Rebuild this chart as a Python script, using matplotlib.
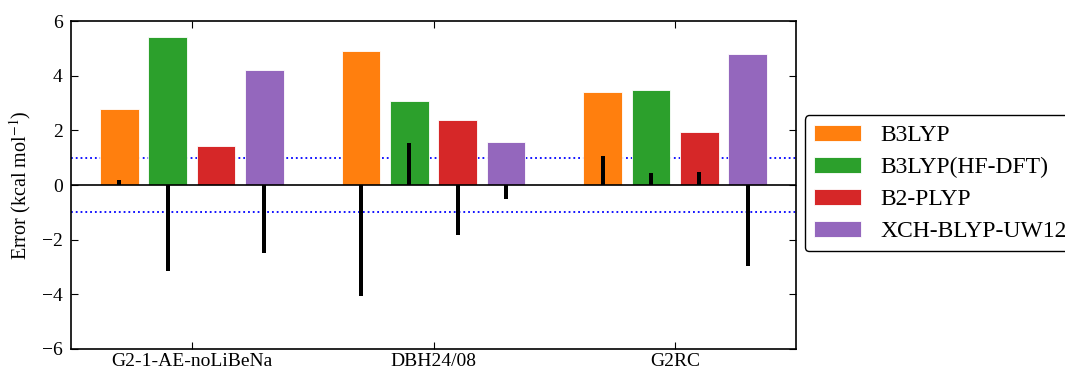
"""Error bars for four functionals over three benchmark sets"""

import matplotlib
matplotlib.use("Agg")
import matplotlib.pyplot as plt
import numpy as np

sets = ["G2-1-AE-noLiBeNa", "DBH24/08", "G2RC"]
methods = ["B3LYP", "B3LYP(HF-DFT)", "B2-PLYP", "XCH-BLYP-UW12"]
colors = ["#ff7f0e", "#2ca02c", "#d62728", "#9467bd"]

# mean absolute errors (coloured bars)
mae_b3lyp = [2.78, 4.92, 3.39]
mae_hfdft = [5.41, 3.08, 3.47]
mae_b2plyp = [1.43, 2.36, 1.93]
mae_xch = [4.19, 1.59, 4.79]

# mean signed errors (thin black bars)
mse_b3lyp = [0.20, -4.05, 1.07]
mse_hfdft = [-3.14, 1.55, 0.44]
mse_b2plyp = [0.0, -1.83, 0.48]
mse_xch = [-2.48, -0.52, -2.95]


def main():
    plt.rcParams['font.family'] = ['Liberation Serif', 'DejaVu Serif']
    plt.rcParams['mathtext.fontset'] = 'stix'

    fig = plt.figure(figsize=(10.65, 3.7), dpi=100)
    ax = fig.add_axes([0.0667, 0.0568, 0.6807, 0.8864])

    x = np.arange(len(sets))
    mae = [mae_b3lyp, mae_hfdft, mae_b2plyp, mae_xch]
    mse = [mse_b3lyp, mse_hfdft, mse_b2plyp, mse_xch]
    offsets = [-0.3, -0.1, 0.1, 0.3]

    for i in range(4):
        ax.bar(x + offsets[i], mae[i], width=0.16, color=colors[i],
               edgecolor='white', linewidth=0.6, label=methods[i], zorder=2)
        ax.bar(x + offsets[i], mse[i], width=0.016, color='black', zorder=3)

    ax.axhline(0, color='black', lw=1.2, zorder=4)
    ax.axhline(1, color='blue', ls=':', lw=1.3, zorder=1)
    ax.axhline(-1, color='blue', ls=':', lw=1.3, zorder=1)

    ax.set_xlim(-0.5, 2.5)
    ax.set_ylim(-6, 6)
    ax.set_xticks(x)
    ax.set_xticklabels(sets)
    ax.set_yticks([-6, -4, -2, 0, 2, 4, 6])
    ax.set_yticklabels(['\u22126', '\u22124', '\u22122', '0', '2', '4', '6'])
    ax.tick_params(direction='in', top=True, right=True, labelsize=14,
                   length=5, width=0.8)
    ax.tick_params(axis='x', pad=3)
    ax.tick_params(axis='y', pad=6)
    ax.set_ylabel('Error (kcal mol$^{-1}$)', fontsize=14.5, labelpad=6)
    for s in ax.spines.values():
        s.set_linewidth(1.2)

    ax.legend(loc='upper left', bbox_to_anchor=(1.012, 0.713), fontsize=17,
              frameon=True, fancybox=True, edgecolor='black', framealpha=1,
              handlelength=2.0, handleheight=0.68, labelspacing=0.45,
              borderpad=0.4, handletextpad=0.8, borderaxespad=0)

    fig.savefig('out.png', dpi=100)


if __name__ == "__main__":
    main()
